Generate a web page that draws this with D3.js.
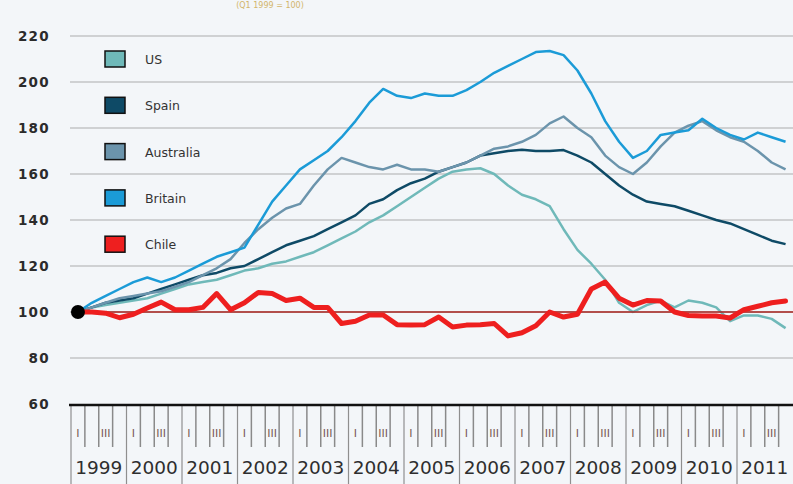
<!DOCTYPE html>
<html>
<head>
<meta charset="utf-8">
<script src="https://cdnjs.cloudflare.com/ajax/libs/d3/7.8.5/d3.min.js"></script>
<style>
  body { margin: 0; background: #f3f6f9; }
  svg { display: block; }
</style>
</head>
<body>
<div id="chart"></div>
<script>
// quarterly index, Q1 1999 = 100
var years = [1999, 2000, 2001, 2002, 2003, 2004, 2005, 2006, 2007, 2008, 2009, 2010, 2011];
var yTicks = [60, 80, 100, 120, 140, 160, 180, 200, 220];
var quarterLabels = ["I", "", "III", ""];
var seriesNames = ["US", "Spain", "Australia", "Britain", "Chile"];

var us = [100, 102, 103, 104, 105, 106, 108, 110, 112, 113, 114, 116,
  118, 119, 121, 122, 124, 126, 129, 132, 135, 139, 142, 146,
  150, 154, 158, 161, 162, 162.5, 160, 155, 151, 149, 146, 136,
  127, 121, 114, 104, 100, 103, 105, 102, 105, 104, 102, 96,
  98.5, 98.5, 97, 93];
var spain = [100, 102, 104, 105, 106, 108, 110, 112, 114, 116, 117, 119,
  120, 123, 126, 129, 131, 133, 136, 139, 142, 147, 149, 153,
  156, 158, 161, 163, 165, 168, 169, 170, 170.5, 170, 170, 170.4,
  168, 165, 160, 155, 151, 148, 147, 146, 144, 142, 140, 138.5,
  136, 133.5, 131, 129.5];
var australia = [100, 102, 104, 106, 107, 108, 109, 111, 113, 116, 119, 123,
  130, 136, 141, 145, 147, 155, 162, 167, 165, 163, 162, 164,
  162, 162, 161, 163, 165, 168, 171, 172, 174, 177, 182, 185,
  180, 176, 168, 163, 160, 165, 172, 178, 181, 183, 179, 176,
  174, 170, 165, 162];
var britain = [100, 104, 107, 110, 113, 115, 113, 115, 118, 121, 124, 126,
  128, 138, 148, 155, 162, 166, 170, 176, 183, 191, 197, 194,
  193, 195, 194, 194, 196.5, 200, 204, 207, 210, 213, 213.5, 211.7,
  205, 195, 183, 174, 167, 170, 177, 178, 179, 184, 180, 177,
  175, 178, 176, 174];
var chile = [100, 100, 99.5, 97.5, 99, 101.7, 104.3, 101, 101, 102, 108, 101,
  104, 108.5, 108, 105, 106, 102, 102, 95, 96, 98.7, 98.7, 94.5,
  94.3, 94.5, 97.8, 93.5, 94.3, 94.5, 95, 89.6, 91, 94, 100, 97.8,
  99, 110, 113, 106, 103, 105, 104.8, 100, 98.5, 98.3, 98.3, 97.4,
  101, 102.5, 104, 104.8];

var colors = ["#6fb9b9", "#0e4a66", "#6b94ac", "#1b9bd7", "#ee1f1f"];
var widths = [2.5, 2.5, 2.5, 2.5, 5];

var width = 793, height = 484;

var svg = d3.select("#chart").append("svg")
    .attr("width", width)
    .attr("height", height)
    .style("background", "#f3f6f9");

var x = d3.scaleLinear()
    .domain([1999, 2012])
    .range([71, 792.5]);

var y = d3.scaleLinear()
    .domain([60, 220])
    .range([404, 36]);

// subtitle at the very top
svg.append("text")
    .attr("x", 270)
    .attr("y", 8)
    .attr("text-anchor", "middle")
    .attr("font-family", "DejaVu Sans, Verdana, sans-serif")
    .attr("font-size", 8)
    .attr("fill", "#d2b56a")
    .text("(Q1 1999 = 100)");

// gridlines
svg.selectAll(".grid")
    .data(yTicks.filter(function(d) { return d > 60; }))
    .enter().append("line")
    .attr("class", "grid")
    .attr("x1", 70)
    .attr("x2", width)
    .attr("y1", function(d) { return y(d); })
    .attr("y2", function(d) { return y(d); })
    .style("stroke", "#cfd1d3")
    .style("stroke-width", "2px");

var yAxis = d3.axisLeft(y)
    .tickValues(yTicks)
    .tickSize(0)
    .tickPadding(0);

svg.append("g")
    .attr("class", "axis--y")
    .attr("transform", "translate(50,0)")
    .call(yAxis)
    .call(function(g) { g.select(".domain").remove(); })
    .selectAll("text")
    .attr("font-family", "DejaVu Sans, Verdana, sans-serif")
    .attr("font-size", 13.5)
    .attr("font-weight", "bold")
    .attr("letter-spacing", "1.3px")
    .attr("fill", "#2b2b2b");

// time axis: year boxes with quarter ticks
var xAxisG = svg.append("g").attr("class", "axis--x");

var yearG = xAxisG.selectAll(".year")
    .data(years)
    .enter().append("g")
    .attr("class", "year");

yearG.append("line")
    .attr("x1", function(d) { return x(d); })
    .attr("x2", function(d) { return x(d); })
    .attr("y1", 405)
    .attr("y2", height)
    .style("stroke", "#8f8f8f")
    .style("stroke-width", "1.2px");

yearG.each(function(yr) {
  var g = d3.select(this);
  for (var q = 1; q < 4; q++) {
    g.append("line")
      .attr("x1", x(yr + q / 4))
      .attr("x2", x(yr + q / 4))
      .attr("y1", 405)
      .attr("y2", 447)
      .style("stroke", "#8a8a8a")
      .style("stroke-width", "1.5px");
  }
  for (var k = 0; k < 4; k++) {
    if (!quarterLabels[k]) continue;
    g.append("text")
      .attr("x", x(yr + (k + 0.5) / 4))
      .attr("y", 437)
      .attr("text-anchor", "middle")
      .attr("font-family", "DejaVu Sans, sans-serif")
      .attr("font-size", 11)
      .attr("fill", "#7a5656")
      .text(quarterLabels[k]);
  }
});

yearG.append("text")
    .attr("x", function(d) { return x(d + 0.5); })
    .attr("y", 474)
    .attr("text-anchor", "middle")
    .attr("font-family", "DejaVu Sans, Verdana, sans-serif")
    .attr("font-size", 18.5)
    .attr("fill", "#2e2e2e")
    .text(function(d) { return d; });

xAxisG.append("line")
    .attr("x1", 69)
    .attr("x2", width)
    .attr("y1", 405)
    .attr("y2", 405)
    .style("stroke", "#111")
    .style("stroke-width", "2.5px");

// series lines
var allSeries = [us, spain, australia, britain, chile];

var line = d3.line()
    .x(function(d, i) { return x(1999 + (i + 0.5) / 4); })
    .y(function(d) { return y(d); });

for (var s = 0; s < 4; s++) {
  svg.append("path")
    .datum(allSeries[s])
    .attr("d", line)
    .style("fill", "none")
    .style("stroke", colors[s])
    .style("stroke-width", widths[s] + "px")
    .style("stroke-linejoin", "round");
}

// base line at 100
svg.append("line")
    .attr("x1", 85)
    .attr("x2", width)
    .attr("y1", y(100))
    .attr("y2", y(100))
    .style("stroke", "#a8231f")
    .style("stroke-width", "1.5px");

svg.append("path")
    .datum(chile)
    .attr("d", line)
    .style("fill", "none")
    .style("stroke", colors[4])
    .style("stroke-width", widths[4] + "px")
    .style("stroke-linejoin", "round")
    .style("stroke-linecap", "round");

svg.append("circle")
    .attr("cx", x(1999.125))
    .attr("cy", y(100))
    .attr("r", 7)
    .style("fill", "#000");

// legend
var legend = svg.selectAll(".legend")
    .data(seriesNames)
    .enter().append("g")
    .attr("class", "legend")
    .attr("transform", function(d, i) { return "translate(105," + (51 + i * 46.3) + ")"; });

legend.append("rect")
    .attr("width", 20)
    .attr("height", 16)
    .style("fill", function(d, i) { return colors[i]; })
    .style("stroke", "#111")
    .style("stroke-width", "1.5px");

legend.append("text")
    .attr("x", 40)
    .attr("y", 13)
    .attr("font-family", "DejaVu Sans, Verdana, sans-serif")
    .attr("font-size", 12.5)
    .attr("fill", "#333")
    .text(function(d) { return d; });
</script>
</body>
</html>
